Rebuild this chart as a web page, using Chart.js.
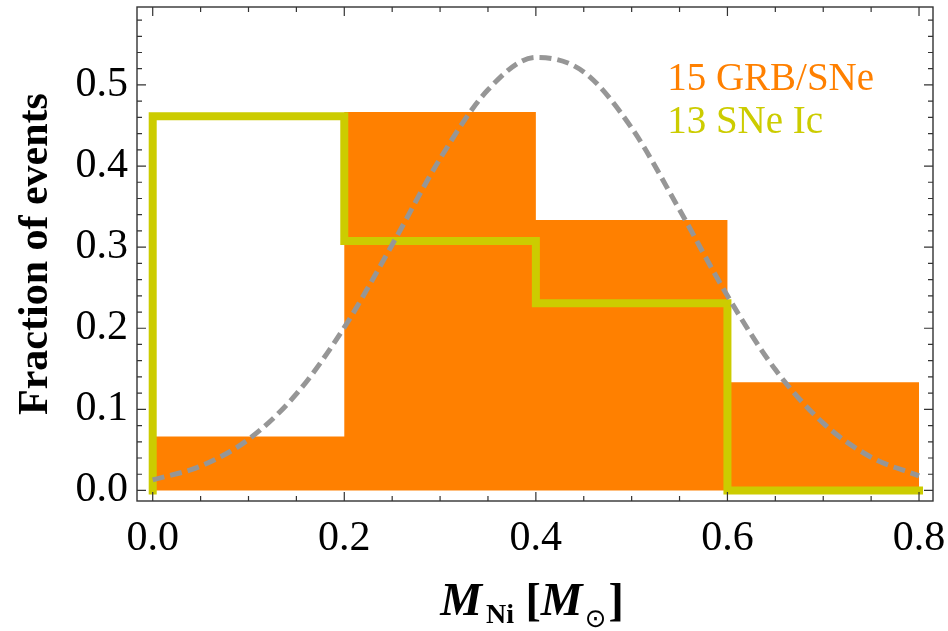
<!DOCTYPE html>
<html>
<head>
<meta charset="utf-8">
<script src="https://cdn.jsdelivr.net/npm/chart.js@4.4.1/dist/chart.umd.min.js"></script>
<style>
html, body { margin: 0; padding: 0; background: #fff; }
</style>
</head>
<body>
<canvas id="niChart" width="948" height="631"></canvas>
<script>

// histogram bins (M_Ni in solar masses) and fractions per bin
var binEdges = [0, 0.2, 0.4, 0.6, 0.8];
var grbFraction = [1/15, 7/15, 5/15, 2/15];
var icFraction = [6/13, 4/13, 3/13, 0];

// dashed fit curve
var fitX = [0, 0.05, 0.1, 0.15, 0.2, 0.25, 0.3, 0.35, 0.4, 0.45, 0.5, 0.55, 0.6, 0.65, 0.7, 0.75, 0.8];
var fitY = [0.013, 0.030, 0.063, 0.119, 0.201, 0.303, 0.409, 0.494, 0.534, 0.516, 0.447, 0.346, 0.240, 0.149, 0.083, 0.041, 0.018];

var xTicks = [0, 0.2, 0.4, 0.6, 0.8];
var yTicks = [0, 0.1, 0.2, 0.3, 0.4, 0.5];
var legendLabels = ["15 GRB/SNe", "13 SNe Ic"];

var orange = "#ff8000";
var olive = "#cccc00";
var serif = "'Liberation Serif', 'Times New Roman', serif";

Chart.defaults.font.family = serif;

function stepPoints(vals, startAtZero) {
    var pts = [];
    if (startAtZero) pts.push({x: binEdges[0], y: 0});
    for (var i = 0; i < vals.length; i++) {
        pts.push({x: binEdges[i], y: vals[i]});
    }
    pts.push({x: binEdges[binEdges.length - 1], y: vals[vals.length - 1]});
    return pts;
}

var fitPoints = fitX.map(function (x, i) { return {x: x, y: fitY[i]}; });

// frame with inward ticks on all sides, legend text and the x title
var framePlugin = {
    id: 'frame',
    afterDraw: function (chart) {
        var ctx = chart.ctx;
        var a = chart.chartArea;
        var xs = chart.scales.x, ys = chart.scales.y;
        ctx.save();
        ctx.strokeStyle = '#333';
        ctx.lineWidth = 1.4;
        ctx.strokeRect(a.left, a.top, a.right - a.left, a.bottom - a.top);

        ctx.lineWidth = 1.2;
        ctx.beginPath();
        var v, p, len;
        for (var i = 0; i <= 16; i++) {
            v = i * 0.05;
            p = xs.getPixelForValue(v);
            len = (i % 4 === 0) ? 9 : 5;
            ctx.moveTo(p, a.bottom); ctx.lineTo(p, a.bottom - len);
            ctx.moveTo(p, a.top); ctx.lineTo(p, a.top + len);
        }
        for (var j = 0; j <= 29; j++) {
            v = j * 0.02;
            p = ys.getPixelForValue(v);
            len = (j % 5 === 0) ? 9 : 5;
            ctx.moveTo(a.left, p); ctx.lineTo(a.left + len, p);
            ctx.moveTo(a.right, p); ctx.lineTo(a.right - len, p);
        }
        ctx.stroke();

        // legend
        var lx = a.left + (a.right - a.left) * 0.666;
        ctx.font = "39px " + serif;
        ctx.textBaseline = 'alphabetic';
        ctx.textAlign = 'left';
        ctx.fillStyle = orange;
        ctx.fillText(legendLabels[0], lx, a.top + 83);
        ctx.fillStyle = olive;
        ctx.fillText(legendLabels[1], lx, a.top + 126);

        // x axis title: M_Ni [M_sun]
        var big = "bold italic 47px " + serif;
        var bigUp = "bold 46px " + serif;
        var sub = "bold 28px " + serif;
        var sunFont = "26px 'DejaVu Sans', sans-serif";
        var parts = [
            {t: "M", f: big, dy: 0},
            {t: "Ni", f: sub, dy: 8, pad: 4},
            {t: " [", f: bigUp, dy: 0},
            {t: "M", f: big, dy: 0},
            {t: "\u2299", f: sunFont, dy: 12, pad: 2},
            {t: "]", f: bigUp, dy: 0, pad: 2}
        ];
        var total = 0;
        parts.forEach(function (pt) {
            ctx.font = pt.f;
            pt.w = ctx.measureText(pt.t).width + (pt.pad || 0);
            total += pt.w;
        });
        var x = (a.left + a.right) / 2 - 3 - total / 2;
        var base = 615;
        ctx.fillStyle = '#000';
        parts.forEach(function (pt) {
            ctx.font = pt.f;
            ctx.fillText(pt.t, x + (pt.pad || 0), base + pt.dy);
            x += pt.w;
        });
        ctx.restore();
    }
};

var ctxN = document.getElementById("niChart").getContext('2d');
var niChart = new Chart(ctxN, {
    type: 'line',
    data: {
        datasets: [{
            label: 'fit',
            data: fitPoints,
            borderColor: '#969696',
            borderWidth: 5,
            borderDash: [12, 6],
            cubicInterpolationMode: 'monotone',
            pointRadius: 0,
            fill: false,
            order: 0
        }, {
            label: legendLabels[1],
            data: stepPoints(icFraction, true),
            borderColor: olive,
            borderWidth: 8,
            borderCapStyle: 'square',
            borderJoinStyle: 'miter',
            stepped: 'before',
            pointRadius: 0,
            fill: false,
            order: 1
        }, {
            label: legendLabels[0],
            data: stepPoints(grbFraction, false),
            borderColor: orange,
            borderWidth: 0,
            backgroundColor: orange,
            stepped: 'before',
            pointRadius: 0,
            fill: 'origin',
            order: 2
        }]
    },
    options: {
        responsive: false,
        animation: false,
        devicePixelRatio: 1,
        layout: { padding: { top: 7, right: 15, left: 0, bottom: 0 } },
        plugins: { legend: { display: false }, tooltip: { enabled: false } },
        scales: {
            x: {
                type: 'linear',
                min: -0.0164,
                max: 0.8146,
                grid: { display: false, drawTicks: false },
                border: { display: false },
                afterBuildTicks: function (scale) {
                    scale.ticks = xTicks.map(function (v) { return {value: v}; });
                },
                afterFit: function (scale) {
                    scale.height = 130;
                    scale.paddingLeft = 0;
                    scale.paddingRight = 0;
                },
                ticks: {
                    padding: 13,
                    maxRotation: 0,
                    color: '#000',
                    font: { family: serif, size: 42 },
                    callback: function (v) { return v.toFixed(1); }
                }
            },
            y: {
                type: 'linear',
                min: -0.013,
                max: 0.5961,
                grid: { display: false, drawTicks: false },
                border: { display: false },
                afterBuildTicks: function (scale) {
                    scale.ticks = yTicks.map(function (v) { return {value: v}; });
                },
                afterFit: function (scale) {
                    scale.width = 137;
                    scale.paddingTop = 0;
                    scale.paddingBottom = 0;
                },
                title: {
                    display: true,
                    text: 'Fraction of events',
                    color: '#000',
                    padding: { top: 11, bottom: 0 },
                    font: { family: serif, size: 42, weight: 'bold' }
                },
                ticks: {
                    padding: 9,
                    color: '#000',
                    font: { family: serif, size: 42 },
                    callback: function (v) { return v.toFixed(1); }
                }
            }
        }
    },
    plugins: [framePlugin]
});

</script>
</body>
</html>
